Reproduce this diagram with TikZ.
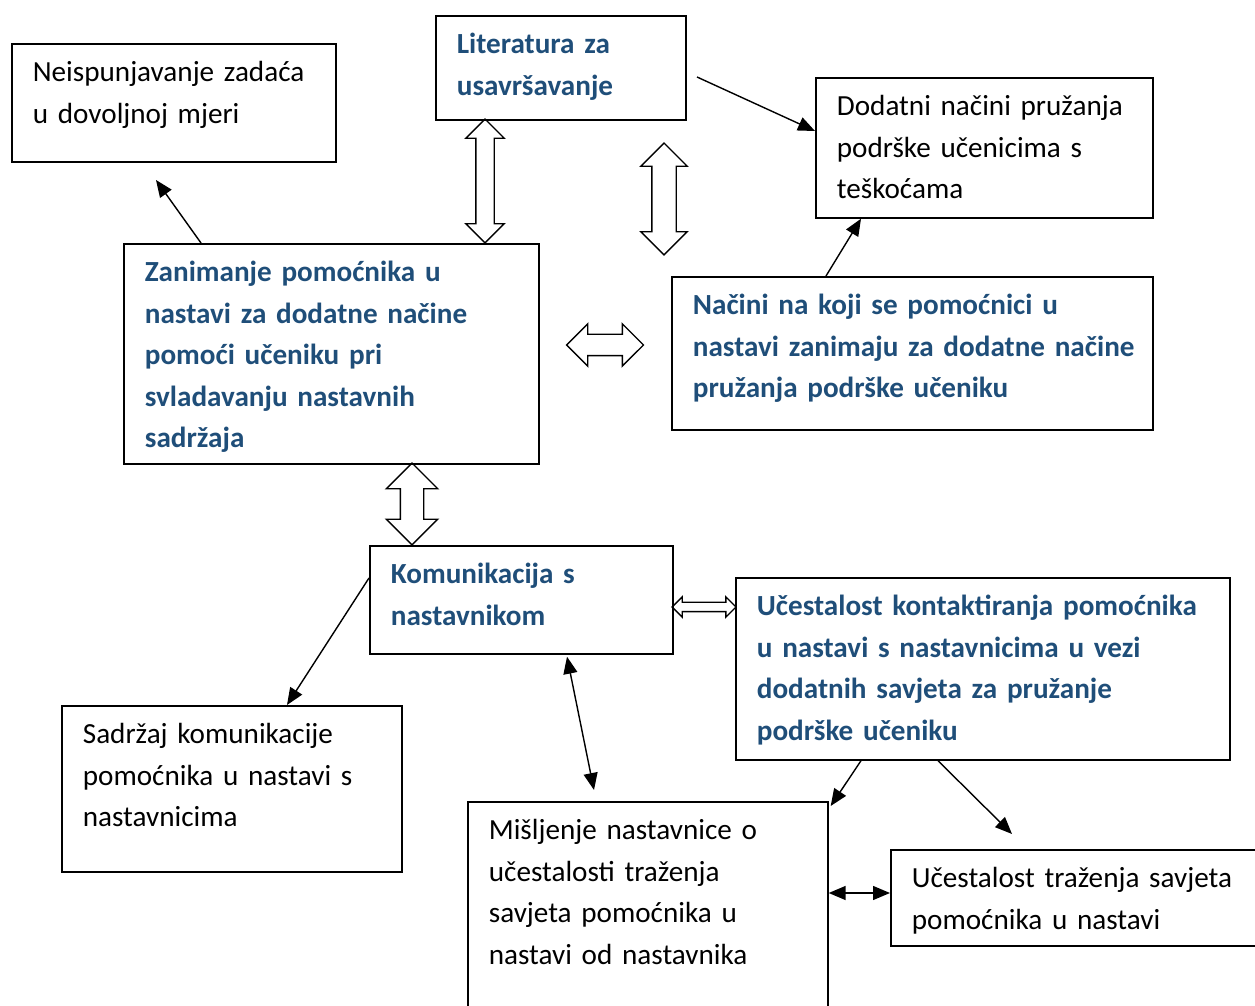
\documentclass[tikz,border=0pt]{standalone}
\usepackage{fontspec}
\setmainfont{Carlito}
\usetikzlibrary{arrows.meta, shapes.arrows, calc}
\definecolor{headblue}{RGB}{31,78,121}

\begin{document}
\begin{tikzpicture}[x = .02cm, y = -.02cm,
		box/.style = {draw, line width = 1pt, anchor = north west, align = left, inner xsep = .42cm, inner ysep = 0pt, text height = .76cm, font = \fontsize{16.6pt}{23.6pt}\selectfont},
		head/.style = {box, text = headblue, font = \fontsize{16.6pt}{23.6pt}\selectfont\bfseries},
		link/.style = {line width = .8pt, -{Triangle[length = .34cm, width = .28cm]}},
		twolink/.style = {line width = .8pt, {Triangle[length = .34cm, width = .28cm]}-{Triangle[length = .34cm, width = .28cm]}},
		fat/.style n args = {3}{double arrow, draw, line width = .8pt, inner xsep = 0pt, inner ysep = #3, minimum width = 0pt, minimum height = #1, double arrow head extend = #2}]
		\useasboundingbox (0,0) rectangle (1255,1006);
		\clip (0,0) rectangle (1255,1006);

		\node (nei) at (11,43) [box, text width = 5.64cm, text depth = 1.6cm] {Neispunjavanje zadaća\\ u dovoljnoj mjeri};
		\node (lit) at (435,15) [head, text width = 4.16cm, text depth = 1.32cm] {Literatura za\\ usavršavanje};
		\node (dod) at (815,77) [box, text width = 5.9cm, text depth = 2.04cm] {Dodatni načini pružanja\\ podrške učenicima s\\ teškoćama};
		\node (zan) at (123,243) [head, text width = 7.46cm, text depth = 3.64cm] {Zanimanje pomoćnika u\\ nastavi za dodatne načine\\ pomoći učeniku pri\\ svladavanju nastavnih\\ sadržaja};
		\node (nac) at (671,276) [head, text width = 8.78cm, text depth = 2.3cm] {Načini na koji se pomoćnici u\\ \mbox{nastavi zanimaju za dodatne načine}\\ pružanja podrške učeniku};
		\node (kom) at (369,545) [head, text width = 5.22cm, text depth = 1.4cm] {Komunikacija s\\ nastavnikom};
		\node (uce) at (735,577) [head, text width = 9.04cm, text depth = 2.88cm] {Učestalost kontaktiranja pomoćnika\\ u nastavi s nastavnicima u vezi\\ dodatnih savjeta za pružanje\\ podrške učeniku};
		\node (sad) at (61,705) [box, text width = 5.96cm, text depth = 2.56cm] {Sadržaj komunikacije\\ pomoćnika u nastavi s\\ nastavnicima};
		\node (mis) at (467,801) [box, text width = 6.36cm, text depth = 3.82cm] {Mišljenje nastavnice o\\ učestalosti traženja\\ savjeta pomoćnika u\\ nastavi od nastavnika};
		\node (utr) at (890,849) [box, text width = 6.96cm, text depth = 1.16cm] {Učestalost traženja savjeta\\ pomoćnika u nastavi};

		\node (litzan) at (485,181) [fat = {2.48cm}{.2cm}{.17cm}, rotate = 90] {};
		\node (mid) at (664,199) [fat = {2.24cm}{.22cm}{.23cm}, rotate = 90] {};
		\node (zannac) at (605,345) [fat = {1.54cm}{.21cm}{.2cm}] {};
		\node (zankom) at (412,504) [fat = {1.64cm}{.28cm}{.22cm}, rotate = 90] {};
		\node (komuce) at (704,607) [fat = {1.28cm}{.11cm}{.08cm}] {};

		\coordinate (neiend) at (156,180);
		\coordinate (litstart) at (697,77);
		\coordinate (misend) at (594,790);
		\coordinate (utrend) at (1012,834);

		\draw [link] ($(zan.north west)+(78,0)$) -- (neiend);
		\draw [link] (litstart) -- ($(dod.north west)+(0,54)$);
		\draw [link] ($(nac.north west)+(155,0)$) -- ($(dod.south west)+(46,0)$);
		\draw [link] ($(kom.north west)+(0,33)$) -- ($(sad.north west)+(226,0)$);
		\draw [twolink] ($(kom.south west)+(198,2)$) -- (misend);
		\draw [link] ($(uce.south west)+(126,0)$) -- ($(mis.north east)+(2,5)$);
		\draw [link] ($(uce.south west)+(203,0)$) -- (utrend);
		\draw [twolink] ($(mis.north east)+(0,92)$) -- ($(utr.north west)+(0,44)$);
		\end{tikzpicture}
\end{document}
